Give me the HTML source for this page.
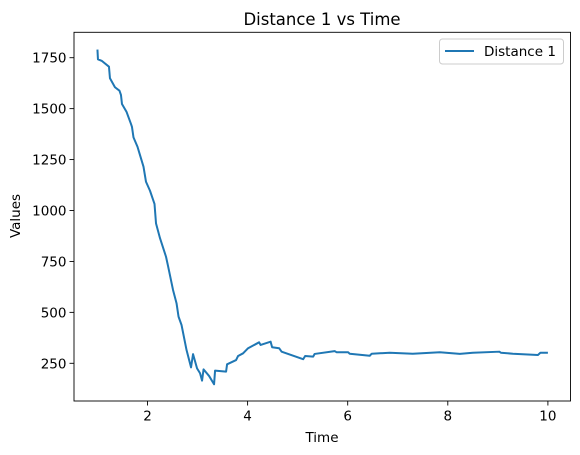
<!DOCTYPE html>
<html><head><meta charset="utf-8"><style>
body{margin:0;background:#fff}
svg{display:block;font-family:"DejaVu Sans","Liberation Sans",sans-serif}
</style></head><body>
<svg id="chart" width="580" height="455">
</svg>
<script>
const times=[1.0,1.01,1.09,1.23,1.25,1.35,1.44,1.47,1.49,1.58,1.67,1.69,1.72,1.80,1.85,1.92,1.97,2.05,2.14,2.17,2.25,2.37,2.41,2.51,2.58,2.62,2.68,2.78,2.87,2.91,2.99,3.05,3.09,3.12,3.23,3.33,3.35,3.57,3.59,3.77,3.81,3.91,4.01,4.23,4.26,4.46,4.49,4.63,4.68,5.11,5.15,5.31,5.34,5.74,5.78,6.01,6.04,6.44,6.48,6.84,7.3,7.84,8.24,8.5,9.03,9.06,9.3,9.8,9.85,10.0];
const distance1=[1790,1742,1734,1706,1649,1605,1588,1567,1523,1485,1425,1410,1359,1313,1272,1215,1141,1097,1032,937,864,773,728,610,545,479,438,315,230,295,225,201,165,220,188,147,214,209,245,266,286,299,324,353,340,356,329,324,307,270,286,283,296,310,304,304,297,287,297,302,297,304,296,302,307,302,297,291,302,302];
const xTicks=[2,4,6,8,10];
const yTicks=[250,500,750,1000,1250,1500,1750];
const NS="http://www.w3.org/2000/svg";
const svg=document.getElementById('chart');
const L=74,R=570.5,T=32.3,B=401;
function xs(t){return 147.5+(t-2)*50.05;}
function ys(v){return 363.3-(v-250)*0.20373;}
function mk(tag,attrs,parent){const e=document.createElementNS(NS,tag);for(const k in attrs)e.setAttribute(k,attrs[k]);(parent||svg).appendChild(e);return e;}
const title=mk('text',{x:322,y:25,'text-anchor':'middle','font-size':16.5,fill:'#000'});title.textContent='Distance 1 vs Time';


xTicks.forEach(t=>{const g=mk('g',{});


mk('line',{x1:xs(t),x2:xs(t),y1:B,y2:B+4.5,stroke:'#000','stroke-width':0.9},g);
const tx=mk('text',{x:xs(t),y:B+19.5,'text-anchor':'middle','font-size':13.5},g);tx.textContent=t;});
yTicks.forEach(v=>{const g=mk('g',{});


mk('line',{x1:L-4.5,x2:L,y1:ys(v),y2:ys(v),stroke:'#000','stroke-width':0.9},g);
const tx=mk('text',{x:L-7.5,y:ys(v)+5,'text-anchor':'end','font-size':13.5},g);tx.textContent=v;});
const xl=mk('text',{x:322,y:442,'text-anchor':'middle','font-size':13.5});xl.textContent='Time';


const yl=mk('text',{x:0,y:0,'text-anchor':'middle','font-size':13.5,transform:'translate(20,216) rotate(-90)'});yl.textContent='Values';


const line=mk('polyline',{points:times.map((t,i)=>xs(t)+','+ys(distance1[i])).join(' '),fill:'none',stroke:'#1f77b4','stroke-width':2,'stroke-linejoin':'round'});


const frame=mk('rect',{x:L,y:T,width:R-L,height:B-T,fill:'none',stroke:'#000','stroke-width':0.9});


const lg=mk('g',{});


mk('rect',{x:439.5,y:39,width:124,height:25,rx:3,fill:'#fff',stroke:'#ccc','stroke-width':1},lg);
mk('line',{x1:445,x2:474,y1:51,y2:51,stroke:'#1f77b4','stroke-width':2},lg);
const lt=mk('text',{x:484,y:56,'font-size':13.5},lg);lt.textContent='Distance 1';
</script>
</body></html>
